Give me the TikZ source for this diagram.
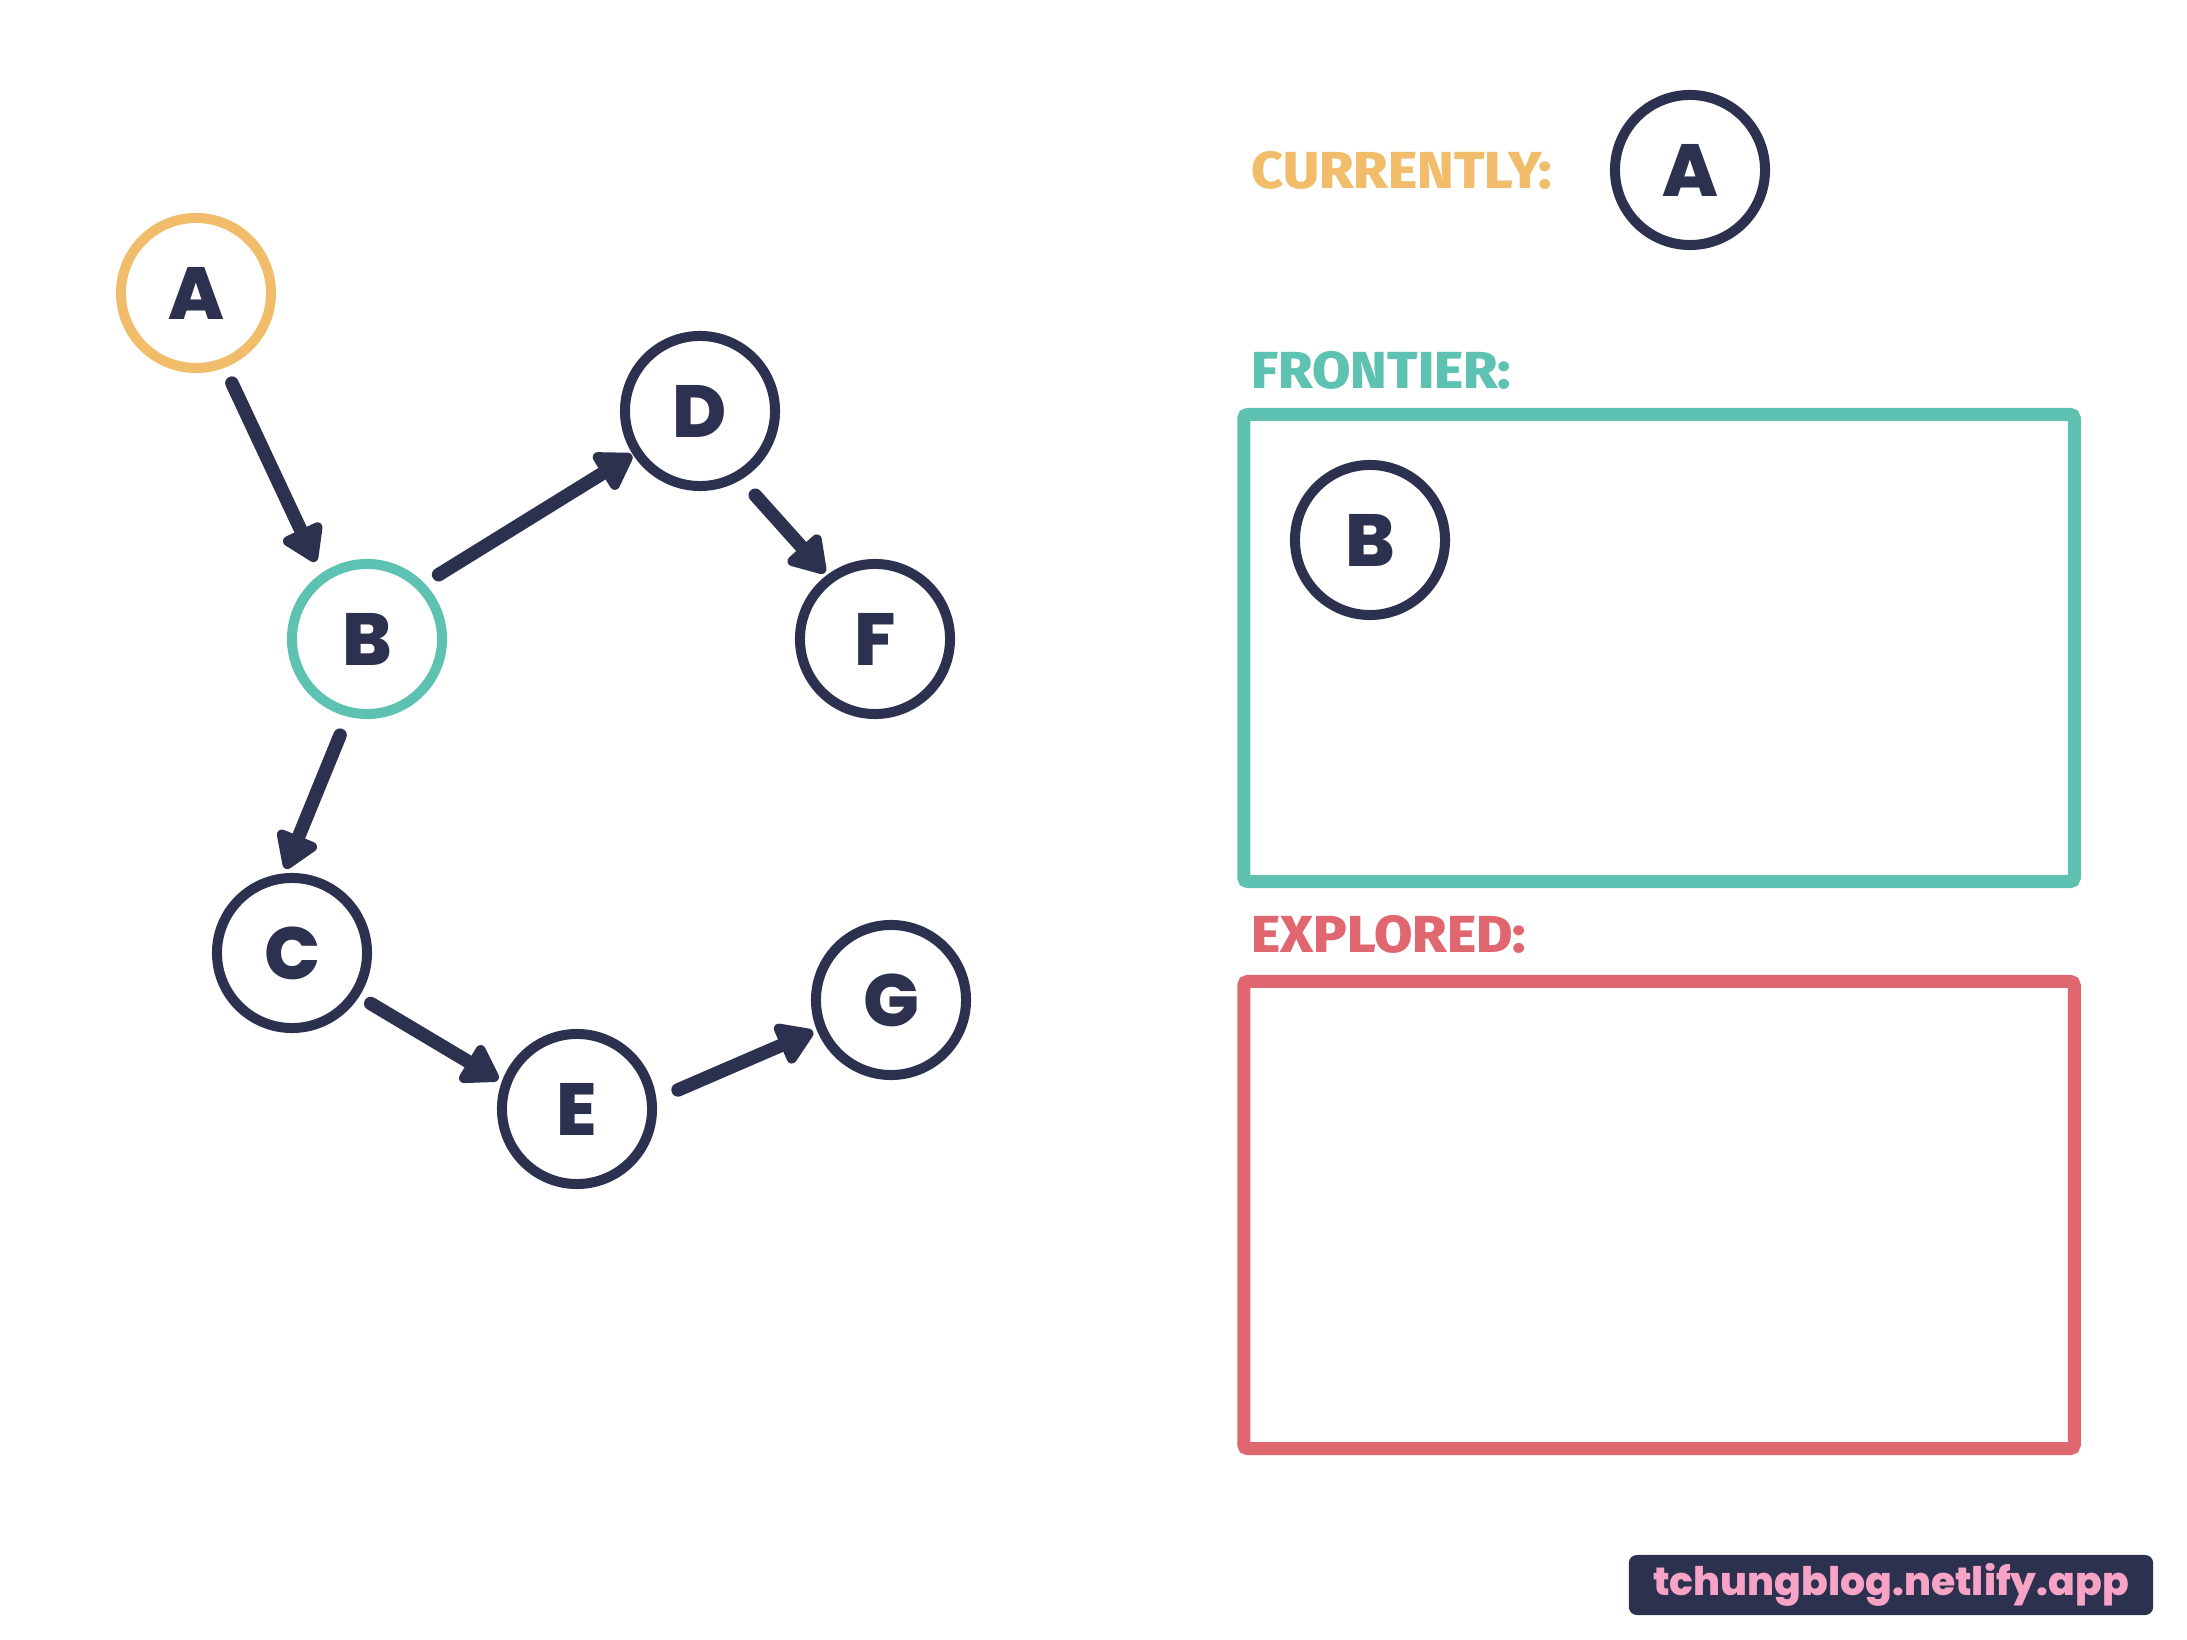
\documentclass[tikz,border=0pt]{standalone}
\usepackage{fontspec}
\setmainfont{Open Sans}
\newfontfamily\lblfont{Fira Sans ExtraBold}[FakeStretch=1.07]
\newfontfamily\popfont{Poppins ExtraBold}
\usetikzlibrary{arrows.meta}
\definecolor{navy}{RGB}{45,49,80}
\definecolor{corange}{RGB}{242,189,107}
\definecolor{cteal}{RGB}{94,194,178}
\definecolor{cred}{RGB}{224,102,112}
\definecolor{cpink}{RGB}{247,163,198}
\tikzset{
  gnode/.style={circle, draw=navy, line width=1mm, inner sep=0pt, minimum size=1.5cm,
    text=navy, font=\popfont\fontsize{21}{21}\selectfont},
  edge/.style={draw=navy, line width=1.35mm, line cap=round,
    -{Triangle[width=4.8mm,length=4mm,round]}},
  lbl/.style={anchor=west, inner sep=0pt, font=\lblfont\fontsize{14.8}{15}\selectfont},
  listbox/.style={line width=1.3mm, rounded corners=0.4mm, inner sep=0pt,
    minimum width=8.3cm, minimum height=4.67cm}
}
\begin{document}
\begin{tikzpicture}[x=0.01cm,y=-0.01cm]
\useasboundingbox (0,0) rectangle (2187,1640);
% graph
\node[gnode, draw=corange] (A) at (196,293) {A};
\node[gnode, draw=cteal] (B) at (367,639) {B};
\node[gnode] (D) at (700,411) {D};
\node[gnode] (F) at (875,639) {F};
\node[gnode] (C) at (292,953) {C};
\node[gnode] (E) at (577,1109) {E};
\node[gnode] (G) at (891,1000) {G};
\draw[edge, shorten <=1.7mm, shorten >=1.3mm] (A.-69) -- (B.125);
\draw[edge, shorten <=1.65mm, shorten >=0.1mm] (B.44) -- (D.-147);
\draw[edge, shorten <=2.1mm, shorten >=0.3mm] (D.-59) -- (F.127);
\draw[edge, shorten <=2.0mm, shorten >=0.5mm] (B.-104) -- (C.96);
\draw[edge, shorten <=1.35mm, shorten >=0.4mm] (C.-33) -- (E.160);
\draw[edge, shorten <=2.35mm, shorten >=0.4mm] (E.7) -- (G.-158);
% right panel
\node[lbl, text=corange] (curlbl) at (1251,170) {CURRENTLY:};
\node[gnode] (curA) at (1690,170) {A};
\node[lbl, text=cteal] (frlbl) at (1251,370) {FRONTIER:};
\node[listbox, draw=cteal] (frontier) at (1659,648) {};
\node[gnode] (frB) at (1370,540) {B};
\node[lbl, text=cred] (exlbl) at (1251,934) {EXPLORED:};
\node[listbox, draw=cred] (explored) at (1659,1215) {};
% watermark
\node[fill=navy, rounded corners=0.8mm, minimum width=5.24cm, minimum height=0.6cm,
  inner sep=0pt, text=cpink, font=\popfont\fontsize{11.2}{12}\selectfont]
  (wm) at (1891,1585) {tchungblog.netlify.app};
\end{tikzpicture}
\end{document}
